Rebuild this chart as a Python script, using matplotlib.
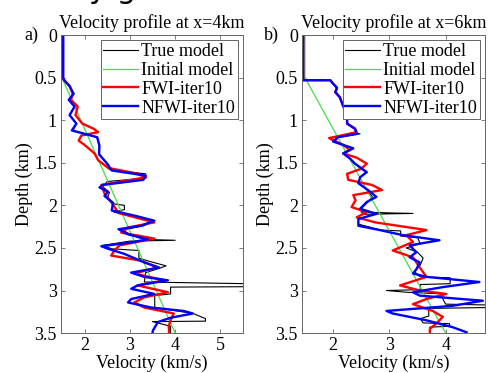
import matplotlib
matplotlib.use("Agg")
import matplotlib.pyplot as plt

# ---- panel a) velocity profile at x=4km ----
a_init_d = [0.0, 0.5, 3.5]
a_init_v = [1.5, 1.5, 4.0]

a_true_d = [0.0, 0.5, 0.53, 0.6, 0.69, 0.76, 0.84, 0.94, 1.04, 1.12, 1.2, 1.3, 1.4, 1.5, 1.58, 1.63, 1.68,
            1.72, 1.78, 1.85, 1.92, 1.98, 2.0, 2.05, 2.08, 2.13, 2.18, 2.24, 2.29, 2.34, 2.4, 2.41, 2.42,
            2.47, 2.51, 2.53, 2.62, 2.66, 2.71, 2.74, 2.79, 2.9, 2.92, 2.955, 2.96, 3.04, 3.06, 3.2, 3.27,
            3.33, 3.36, 3.365, 3.42, 3.5]
a_true_v = [1.5, 1.5, 1.55, 1.67, 1.76, 1.65, 1.78, 1.67, 1.82, 1.75, 2.27, 2.32, 2.33, 2.48, 2.55, 3.35, 3.35,
            2.5, 2.4, 2.55, 2.5, 2.62, 2.88, 2.88, 2.65, 3.1, 3.55, 3.3, 2.85, 3.0, 3.3, 4.0, 3.0,
            2.4, 2.6, 3.2, 3.2, 3.45, 3.8, 3.65, 3.35, 3.32, 5.6, 5.6, 3.9, 3.9, 3.55, 3.55, 4.4,
            4.67, 4.67, 3.5, 3.9, 3.9]

a_fwi_d = [0.0, 0.5, 0.53, 0.6, 0.69, 0.76, 0.84, 0.94, 1.04, 1.1, 1.14, 1.18, 1.24, 1.29, 1.39, 1.47, 1.56,
           1.62, 1.67, 1.72, 1.76, 1.86, 1.96, 2.09, 2.2, 2.26, 2.32, 2.39, 2.47, 2.53, 2.59, 2.65, 2.73, 2.8,
           2.88, 2.94, 3.02, 3.08, 3.14, 3.2, 3.27, 3.35, 3.42, 3.5]
a_fwi_v = [1.5, 1.5, 1.55, 1.67, 1.74, 1.7, 1.85, 1.8, 1.95, 2.2, 2.3, 1.93, 1.87, 2.0, 2.22, 2.3, 2.52,
           3.1, 3.36, 2.81, 2.37, 2.44, 2.59, 2.75, 3.54, 2.96, 2.81, 3.54, 2.77, 2.66, 2.59, 3.25, 3.61, 3.1,
           3.76, 3.17, 3.84, 3.32, 3.1, 3.32, 3.97, 3.9, 3.86, 3.87]

a_nfwi_d = [0.0, 0.5, 0.53, 0.6, 0.69, 0.76, 0.84, 0.94, 1.04, 1.12, 1.2, 1.3, 1.4, 1.51, 1.59, 1.65, 1.7,
            1.76, 1.79, 1.84, 1.89, 1.97, 2.06, 2.12, 2.18, 2.24, 2.28, 2.34, 2.4, 2.44, 2.48, 2.51, 2.57, 2.67,
            2.73, 2.79, 2.84, 2.88, 2.94, 2.98, 3.04, 3.1, 3.14, 3.2, 3.24, 3.27, 3.32, 3.37, 3.47, 3.5]
a_nfwi_v = [1.53, 1.53, 1.55, 1.67, 1.76, 1.65, 1.78, 1.67, 1.82, 1.72, 2.28, 2.33, 2.32, 2.5, 2.6, 3.35, 3.3,
            2.4, 2.33, 2.52, 2.44, 2.63, 2.6, 3.1, 3.54, 3.25, 2.75, 2.96, 3.4, 2.96, 2.37, 2.52, 2.88, 3.32,
            3.65, 3.03, 3.32, 3.84, 3.17, 3.03, 3.54, 3.03, 2.96, 3.47, 4.19, 4.39, 3.9, 3.62, 3.51, 3.5]

# ---- panel b) velocity profile at x=6km ----
b_init_d = [0.0, 0.5, 3.5]
b_init_v = [1.5, 1.5, 4.0]

b_true_d = [0.0, 0.53, 0.53, 0.57, 0.62, 0.67, 0.73, 0.8, 0.88, 0.96, 1.04, 1.1, 1.15, 1.16, 1.2, 1.25, 1.33,
            1.39, 1.45, 1.51, 1.61, 1.67, 1.74, 1.82, 1.9, 1.96, 2.04, 2.08, 2.095, 2.105, 2.15, 2.22, 2.29,
            2.3, 2.36, 2.38, 2.45, 2.5, 2.55, 2.62, 2.7, 2.78, 2.84, 2.85, 2.92, 2.93, 2.99, 3.0, 3.02, 3.04,
            3.1, 3.16, 3.17, 3.2, 3.21, 3.3, 3.33, 3.38, 3.39, 3.42, 3.43, 3.5]
b_true_v = [1.47, 1.47, 1.95, 2.0, 2.07, 2.04, 2.12, 2.16, 2.21, 2.25, 2.25, 2.39, 2.4, 2.48, 2.1, 2.02, 2.34,
            2.18, 2.3, 2.38, 2.58, 2.48, 2.46, 2.6, 2.7, 2.62, 2.5, 2.5, 3.42, 2.5, 2.45, 2.45, 2.85,
            3.2, 3.2, 3.5, 3.55, 3.3, 3.5, 3.6, 3.55, 3.45, 3.55, 4.08, 4.08, 3.55, 3.55, 2.95, 3.3, 3.95,
            3.95, 4.0, 4.75, 4.75, 3.7, 3.7, 3.55, 3.6, 4.07, 4.07, 3.72, 3.72]

b_fwi_d = [0.0, 0.53, 0.53, 0.57, 0.62, 0.67, 0.73, 0.8, 0.88, 0.96, 1.04, 1.1, 1.14, 1.21, 1.29, 1.35, 1.39,
           1.44, 1.51, 1.57, 1.63, 1.7, 1.76, 1.82, 1.88, 1.94, 2.02, 2.08, 2.14, 2.2, 2.29, 2.35, 2.43, 2.53,
           2.61, 2.73, 2.84, 2.94, 3.0, 3.04, 3.1, 3.16, 3.24, 3.31, 3.39, 3.45, 3.5]
b_fwi_v = [1.47, 1.47, 1.95, 2.0, 2.07, 2.04, 2.12, 2.16, 2.21, 2.25, 2.25, 2.39, 2.42, 1.93, 2.18, 2.3, 2.18,
           2.42, 2.6, 2.5, 2.25, 2.27, 2.69, 2.87, 2.36, 2.4, 2.33, 2.6, 2.42, 2.75, 3.66, 3.3, 3.42, 3.06,
           3.42, 3.54, 3.66, 3.19, 3.54, 4.01, 3.66, 3.42, 3.77, 3.95, 3.83, 3.72, 3.72]

b_nfwi_d = [0.0, 0.53, 0.53, 0.57, 0.62, 0.67, 0.73, 0.8, 0.88, 0.96, 1.04, 1.1, 1.16, 1.2, 1.25, 1.33, 1.39,
            1.45, 1.51, 1.61, 1.67, 1.74, 1.82, 1.9, 1.96, 2.04, 2.1, 2.16, 2.24, 2.29, 2.35, 2.41, 2.47, 2.55,
            2.61, 2.67, 2.75, 2.8, 2.84, 2.9, 2.96, 3.02, 3.06, 3.12, 3.18, 3.24, 3.27, 3.35, 3.43, 3.49]
b_nfwi_v = [1.47, 1.47, 1.95, 2.0, 2.07, 2.04, 2.12, 2.16, 2.21, 2.25, 2.25, 2.39, 2.42, 2.09, 2.0, 2.36, 2.18,
            2.3, 2.39, 2.6, 2.48, 2.45, 2.62, 2.77, 2.6, 2.48, 2.77, 2.45, 2.45, 2.83, 3.24, 3.89, 3.36, 3.48,
            3.36, 3.54, 3.48, 3.42, 3.66, 4.6, 3.95, 3.42, 3.54, 4.66, 4.12, 2.95, 3.06, 3.66, 4.12, 4.37]

titles = ["Velocity profile at x=4km", "Velocity profile at x=6km"]
tags = ["a)", "b)"]
legend_labels = ["True model", "Initial model", "FWI-iter10", "NFWI-iter10"]

plt.rcParams['font.family'] = ['Liberation Serif', 'DejaVu Serif']
plt.rcParams['font.size'] = 13

fig = plt.figure(figsize=(4.88, 3.73), dpi=100)

panels = [
    (a_true_d, a_true_v, a_init_d, a_init_v, a_fwi_d, a_fwi_v, a_nfwi_d, a_nfwi_v),
    (b_true_d, b_true_v, b_init_d, b_init_v, b_fwi_d, b_fwi_v, b_nfwi_d, b_nfwi_v),
]
boxes = [[0.125, 0.107, 0.373, 0.799], [0.619, 0.107, 0.375, 0.799]]
xlims = [(1.48, 5.5), (1.45, 4.7)]
xticks = [[2, 3, 4, 5], [2, 3, 4]]
tag_x = [24 / 488, 264 / 488]

for i in range(2):
    td, tv, idp, iv, fd, fv, nd, nv = panels[i]
    ax = fig.add_axes(boxes[i])
    ax.plot(tv, td, color='k', lw=0.8, label=legend_labels[0])
    ax.plot(iv, idp, color='#44dd44', lw=0.9, label=legend_labels[1])
    ax.plot(fv, fd, color='r', lw=1.7, label=legend_labels[2])
    ax.plot(nv, nd, color='b', lw=1.7, label=legend_labels[3])

    ax.set_xlim(xlims[i])
    ax.set_ylim(3.5, 0)
    ax.set_xticks(xticks[i])
    ax.set_yticks([0, 0.5, 1, 1.5, 2, 2.5, 3, 3.5])
    ax.set_yticklabels(["0", "0.5", "1", "1.5", "2", "2.5", "3", "3.5"])
    ax.tick_params(direction='in', top=True, right=True, length=3, width=0.6,
                   color='0.4', pad=3)
    for s in ax.spines.values():
        s.set_color('0.4')
        s.set_linewidth(0.7)

    ax.set_title(titles[i], fontsize=13, pad=5)
    ax.set_xlabel("Velocity (km/s)", labelpad=0)
    ax.set_ylabel("Depth (km)", labelpad=1)

    leg = ax.legend(loc='upper right', fontsize=13, handlelength=1.9, handletextpad=0.2,
                    borderpad=0.15, labelspacing=0.1, borderaxespad=0.3, fancybox=False,
                    framealpha=1)
    leg.get_frame().set_edgecolor('0.4')
    leg.get_frame().set_linewidth(0.7)

    fig.text(tag_x[i], 1 - 35 / 373, tags[i], ha='left', va='center', fontsize=13)

# clipped heading remnant at the top edge
fig.text(89 / 488, 1 + 2 / 373, "y g", family='DejaVu Sans', fontsize=22, va='baseline', ha='left')

fig.savefig("out.png", dpi=100)
